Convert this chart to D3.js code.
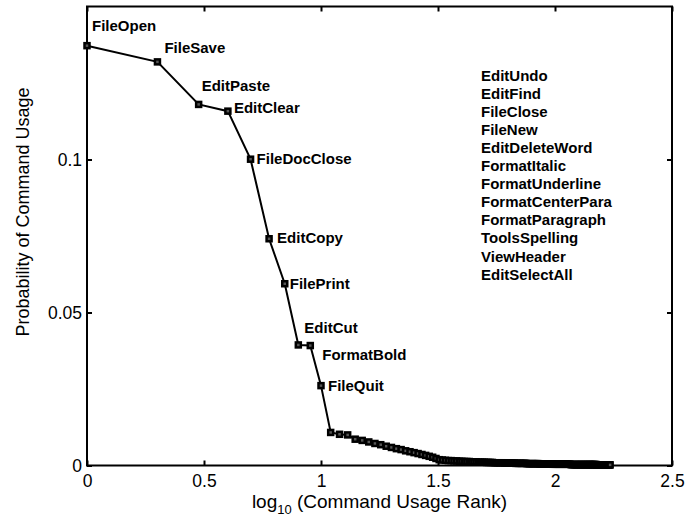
<!DOCTYPE html>
<html><head><meta charset="utf-8">
<script src="https://cdn.jsdelivr.net/npm/d3@7"></script>
<style>body{margin:0;background:#fff;} text{font-family:"Liberation Sans",Arial,Helvetica,sans-serif;fill:#000;}</style>
</head><body><svg id="c" width="685" height="518"></svg>
<script>
// ---- data ----
const labeledCommands = ["FileOpen","FileSave","EditPaste","EditClear","FileDocClose","EditCopy","FilePrint","EditCut","FormatBold","FileQuit"];
const labeledProbabilities = [0.1372,0.1319,0.1180,0.1158,0.1001,0.0741,0.0594,0.0394,0.0392,0.0261];
const tailProbabilities = [
  0.0108,0.0102,0.0100,0.0086,0.0082,0.0077,0.0072,0.0068,0.0063,0.0059,
  0.0055,0.0052,0.0048,0.0045,0.0042,0.0039,0.0036,0.0033,0.0030,0.0027,
  0.0023,0.0019,0.0018,0.0017,0.0016,0.0016,0.0015,0.0015,0.0014,0.0014,
  0.0013,0.0013,0.0013,0.0012,0.0012,0.0012,0.0011,0.0011,0.0011,0.0011,
  0.0010,0.0010,0.0010,0.0010,0.0009,0.0009,0.0009,0.0009,0.0009,0.0009,
  0.0008,0.0008,0.0008,0.0008,0.0008,0.0008,0.0008,0.0007,0.0007,0.0007,
  0.0007,0.0007,0.0007,0.0007,0.0007,0.0006,0.0006,0.0006,0.0006,0.0006,
  0.0006,0.0006,0.0006,0.0006,0.0006,0.0005,0.0005,0.0005,0.0005,0.0005,
  0.0005,0.0005,0.0005,0.0005,0.0005,0.0005,0.0005,0.0004,0.0004,0.0004,
  0.0004,0.0004,0.0004,0.0004,0.0004,0.0004,0.0004,0.0004,0.0004,0.0004,
  0.0004,0.0004,0.0004,0.0004,0.0004,0.0004,0.0003,0.0003,0.0003,0.0003,
  0.0003,0.0003,0.0003,0.0003,0.0003,0.0003,0.0003,0.0003,0.0003,0.0003,
  0.0003,0.0003,0.0003,0.0003,0.0003,0.0003,0.0003,0.0003,0.0003,0.0003,
  0.0003,0.0003,0.0003,0.0003,0.0003,0.0003,0.0003,0.0003,0.0003,0.0003,
  0.0002,0.0002,0.0002,0.0002,0.0002,0.0002,0.0002,0.0002,0.0002,0.0002,
  0.0002,0.0002,0.0002,0.0002,0.0002,0.0002,0.0002,0.0002,0.0002,0.0002,
  0.0002,0.0002
];
const listedCommands = ["EditUndo","EditFind","FileClose","FileNew","EditDeleteWord","FormatItalic","FormatUnderline","FormatCenterPara","FormatParagraph","ToolsSpelling","ViewHeader","EditSelectAll"];
const xTickValues = [0,0.5,1,1.5,2,2.5];
const yTickValues = [0,0.05,0.1];
const yTickLabels = ["0","0.05","0.1"];
// label placement (pixel offsets from the marker to label's left/baseline)
const labelOffsets = [[5,-15],[7,-9],[3,-13],[6,2],[6,5],[8,4],[5,5],[6,-12],[12,14],[7,5]];

// ---- layout ----
const L = 87, R = 672, T = 6.5, B = 465.5;
const svg = d3.select("#c");
const x = d3.scaleLinear().domain([0,2.5]).range([L,R]);
const y = d3.scaleLinear().domain([0,0.15]).range([B,T]);

const probs = labeledProbabilities.concat(tailProbabilities);
const pts = probs.map((p,i)=>({r:i+1,lx:Math.log10(i+1),p}));

// axes (MATLAB-style inward ticks on all sides)
const tickLen = 5;
const gx = svg.append("g").attr("transform",`translate(0,${B})`)
  .call(d3.axisBottom(x).tickValues(xTickValues).tickFormat(d3.format("")).tickSizeInner(-tickLen).tickSizeOuter(0).tickPadding(9));
const gxt = svg.append("g").attr("transform",`translate(0,${T})`)
  .call(d3.axisTop(x).tickValues(xTickValues).tickFormat("").tickSizeInner(-tickLen).tickSizeOuter(0));
const gy = svg.append("g").attr("transform",`translate(${L},0)`)
  .call(d3.axisLeft(y).tickValues(yTickValues).tickFormat((d,i)=>yTickLabels[i]).tickSizeInner(-tickLen).tickSizeOuter(0).tickPadding(5));
const gyr = svg.append("g").attr("transform",`translate(${R},0)`)
  .call(d3.axisRight(y).tickValues(yTickValues).tickFormat("").tickSizeInner(-tickLen).tickSizeOuter(0));
[gx,gxt,gy,gyr].forEach(g=>{
  g.select(".domain").remove();
  g.selectAll(".tick line").attr("stroke","#000").attr("stroke-width",2);
  g.selectAll(".tick text").attr("font-size",17.5).attr("fill","#000").style("font-family","'Liberation Sans',Arial,sans-serif");
});
svg.append("rect").attr("x",L).attr("y",T).attr("width",R-L).attr("height",B-T)
  .attr("fill","none").attr("stroke","#000").attr("stroke-width",2);

// line
svg.append("path").datum(pts)
  .attr("d",d3.line().x(d=>x(d.lx)).y(d=>y(d.p)))
  .attr("fill","none").attr("stroke","#000").attr("stroke-width",2);

// markers
const ms = 5;
svg.append("g").selectAll("rect").data(pts).join("rect")
  .attr("x",d=>x(d.lx)-ms/2).attr("y",d=>y(d.p)-ms/2)
  .attr("width",ms).attr("height",ms)
  .attr("fill","#555").attr("stroke","#000").attr("stroke-width",2.5);

// point labels
svg.append("g").selectAll("text").data(labeledCommands).join("text")
  .attr("x",(d,i)=>x(pts[i].lx)+labelOffsets[i][0])
  .attr("y",(d,i)=>y(pts[i].p)+labelOffsets[i][1])
  .attr("font-size",15).attr("font-weight","bold")
  .text(d=>d);

// listed commands
svg.append("g").selectAll("text").data(listedCommands).join("text")
  .attr("x",481).attr("y",(d,i)=>80.5+i*18.1)
  .attr("font-size",15).attr("font-weight","bold")
  .text(d=>d);

// axis titles
const xt = svg.append("text").attr("x",(L+R)/2).attr("y",508).attr("text-anchor","middle").attr("font-size",19);
xt.append("tspan").text("log");
xt.append("tspan").attr("font-size",13).attr("dy",6).text("10");
xt.append("tspan").attr("dy",-6).text(" (Command Usage Rank)");

svg.append("text").attr("transform",`translate(29,212) rotate(-90)`)
  .attr("text-anchor","middle").attr("font-size",18).text("Probability of Command Usage");
</script></body></html>
